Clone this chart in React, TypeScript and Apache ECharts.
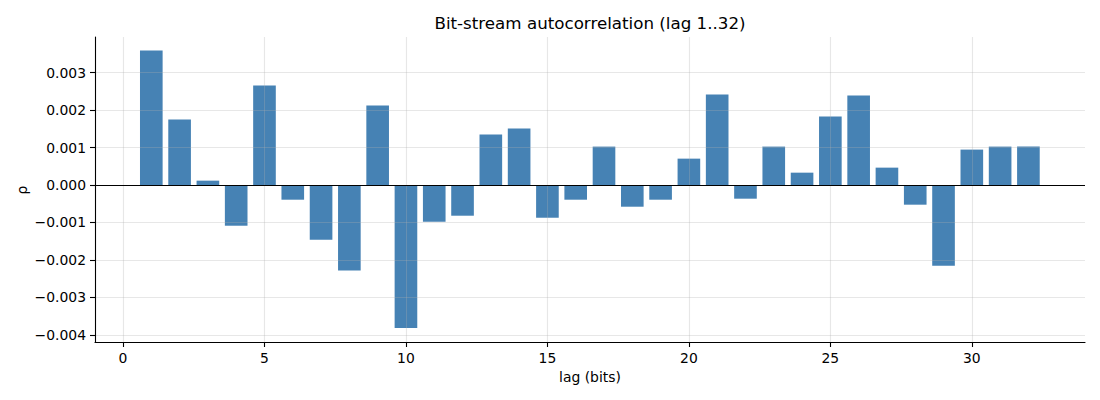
import React, { useEffect, useRef } from 'react';
import * as echarts from 'echarts';

// lag 1..32 and measured autocorrelation
const lags = [1, 2, 3, 4, 5, 6, 7, 8, 9, 10, 11, 12, 13, 14, 15, 16, 17, 18, 19, 20, 21, 22, 23, 24, 25, 26, 27, 28, 29, 30, 31, 32];
const rho = [
  0.003589, 0.001745, 0.000116, -0.001086, 0.002654, -0.000392, -0.00146, -0.00228,
  0.002119, -0.003811, -0.00098, -0.000819, 0.001345, 0.001505, -0.000873, -0.000392,
  0.001024, -0.000579, -0.000392, 0.000703, 0.002413, -0.000365, 0.001024, 0.000329,
  0.001825, 0.002386, 0.000463, -0.000525, -0.002155, 0.000944, 0.001024, 0.001024,
];
const xTicks = [0, 5, 10, 15, 20, 25, 30];
const yTicks = [-0.004, -0.003, -0.002, -0.001, 0, 0.001, 0.002, 0.003];

const FONT = '"DejaVu Sans", sans-serif';
const GRID_COLOR = 'rgba(176,176,176,0.3)';

const App = () => {
  const chartRef = useRef(null);

  useEffect(() => {
    const chart = echarts.init(chartRef.current, null, { renderer: 'svg' });

    const xMin = -0.99;
    const xMax = 34.0;
    const plotWidth = 1100 - 95 - 15;
    const barWidth = (0.8 * plotWidth) / (xMax - xMin);

    const option = {
      animation: false,
      backgroundColor: '#fff',
      grid: { left: 95, right: 15, top: 37, bottom: 58 },
      graphic: [
        {
          type: 'text',
          x: 590,
          y: 23,
          style: {
            text: 'Bit-stream autocorrelation (lag 1..32)',
            font: `16.7px ${FONT}`,
            fill: '#000',
            textAlign: 'center',
            textVerticalAlign: 'middle',
          },
        },
        {
          type: 'text',
          x: 590,
          y: 377,
          style: {
            text: 'lag (bits)',
            font: `13.9px ${FONT}`,
            fill: '#000',
            textAlign: 'center',
            textVerticalAlign: 'middle',
          },
        },
        {
          type: 'text',
          x: 22,
          y: 190,
          rotation: Math.PI / 2,
          style: {
            text: 'ρ',
            font: `13.9px ${FONT}`,
            fill: '#000',
            textAlign: 'center',
            textVerticalAlign: 'middle',
          },
        },
      ],
      xAxis: {
        type: 'value',
        min: xMin,
        max: xMax,
        z: 3,
        axisLine: { show: true, onZero: false, lineStyle: { color: '#000', width: 1.1 } },
        axisTick: { show: true, length: 5, customValues: xTicks, lineStyle: { color: '#000', width: 1.1 } },
        axisLabel: {
          customValues: xTicks,
          margin: 9,
          color: '#000',
          fontFamily: FONT,
          fontSize: 13.9,
          formatter: (v: number) => String(v),
        },
        splitLine: { show: true, lineStyle: { color: GRID_COLOR, width: 1.1 } },
      },
      yAxis: {
        type: 'value',
        min: -0.004187,
        max: 0.003947,
        z: 3,
        axisLine: { show: true, onZero: false, lineStyle: { color: '#000', width: 1.1 } },
        axisTick: { show: true, length: 5, customValues: yTicks, lineStyle: { color: '#000', width: 1.1 } },
        axisLabel: {
          customValues: yTicks,
          margin: 9,
          color: '#000',
          fontFamily: FONT,
          fontSize: 13.9,
          formatter: (v: number) => {
            const s = Math.abs(v).toFixed(3);
            return v < -1e-9 ? '\u2212' + s : s;
          },
        },
        splitLine: { show: true, lineStyle: { color: GRID_COLOR, width: 1.1 } },
      },
      series: [
        {
          type: 'bar',
          data: lags.map((l, i) => [l, rho[i]]),
          barWidth: barWidth,
          itemStyle: { color: '#4682B4' },
          markLine: {
            silent: true,
            symbol: 'none',
            label: { show: false },
            lineStyle: { color: '#000', width: 1.1, type: 'solid' },
            data: [{ yAxis: 0 }],
          },
        },
      ],
    };

    chart.setOption(option);

    return () => {
      chart.dispose();
    };
  }, []);

  return (
    <div
      ref={chartRef}
      style={{ position: 'fixed', left: 0, top: 0, width: '1100px', height: '400px' }}
    />
  );
};

export default App;
